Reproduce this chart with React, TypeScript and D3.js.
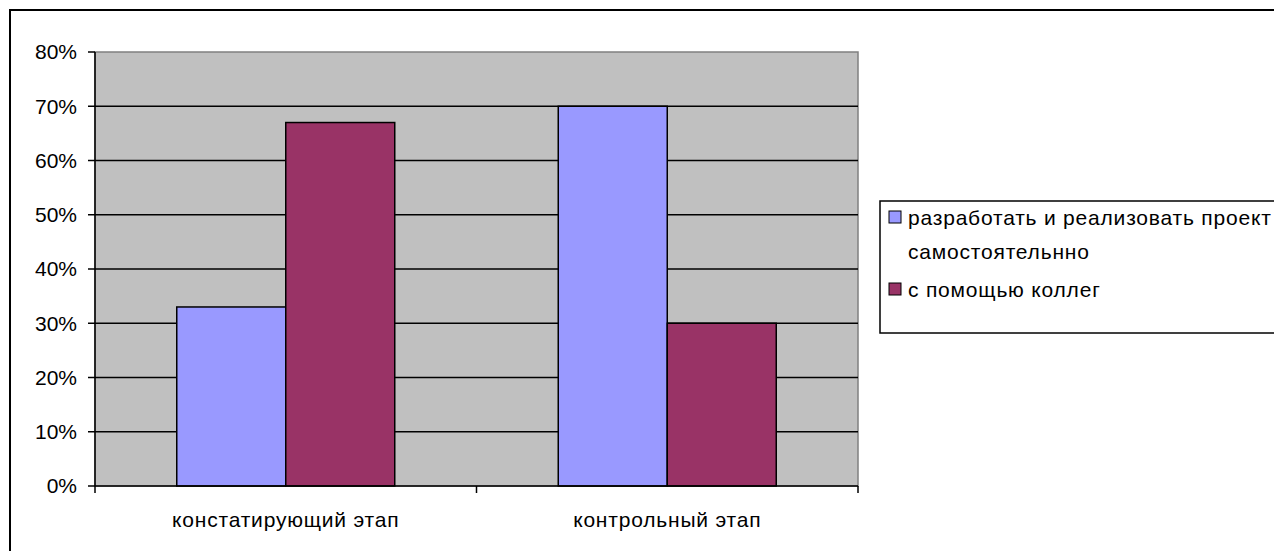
import * as d3 from "d3";

const categories = ["констатирующий этап", "контрольный этап"];
const seriesNames = ["разработать и реализовать проект самостоятельнно", "с помощью коллег"];
const seriesValues = [
  [0.33, 0.67],
  [0.7, 0.3],
];
const yTicks = [0, 0.1, 0.2, 0.3, 0.4, 0.5, 0.6, 0.7, 0.8];
const colors = ["#9999ff", "#993366"];

const W = 1274;
const H = 551;
const plot = { left: 95, right: 858, top: 52, bottom: 486 };
const font = "Arial, 'Liberation Sans', sans-serif";
const fs = 21;
const ls = 0.8;

export default function App() {
  const x0 = d3
    .scaleBand<string>()
    .domain(categories)
    .range([plot.left, plot.right])
    .paddingInner(0)
    .paddingOuter(0);

  // Excel gap width 150%: group = 2 bars + 1.5 bar
  const barW = x0.bandwidth() / 3.5;
  const x1 = d3
    .scaleBand<number>()
    .domain([0, 1])
    .range([0, barW * 2]);

  const y = d3.scaleLinear().domain([0, 0.8]).range([plot.bottom, plot.top]);
  const fmt = d3.format(".0%");

  const catTicks = [plot.left, ...categories.map((c) => (x0(c) ?? 0) + x0.bandwidth())];

  return (
    <svg
      width={W}
      height={H}
      style={{ position: "absolute", left: 0, top: 0, background: "#fff" }}
      fontFamily={font}
    >
      <rect x={10} y={10} width={1300} height={600} fill="#fff" stroke="#000" strokeWidth={2} />

      {/* plot area */}
      <rect
        x={plot.left}
        y={plot.top}
        width={plot.right - plot.left}
        height={plot.bottom - plot.top}
        fill="#c0c0c0"
        stroke="#808080"
        strokeWidth={1.5}
      />

      {/* gridlines */}
      {yTicks.slice(1, -1).map((t) => (
        <line key={t} x1={plot.left} x2={plot.right} y1={y(t)} y2={y(t)} stroke="#000" strokeWidth={1.5} />
      ))}

      {/* bars */}
      {categories.map((c, ci) => {
        const gx = (x0(c) ?? 0) + (x0.bandwidth() - barW * 2) / 2;
        return seriesValues.map((vals, si) => (
          <rect
            key={`${ci}-${si}`}
            x={gx + (x1(si) ?? 0)}
            y={y(seriesValues[ci][si])}
            width={barW}
            height={plot.bottom - y(seriesValues[ci][si])}
            fill={colors[si]}
            stroke="#000"
            strokeWidth={1.5}
          />
        ));
      })}

      {/* y axis */}
      <line x1={plot.left} x2={plot.left} y1={plot.top} y2={plot.bottom} stroke="#000" strokeWidth={1.5} />
      {yTicks.map((t) => (
        <g key={t}>
          <line x1={plot.left - 7} x2={plot.left} y1={y(t)} y2={y(t)} stroke="#000" strokeWidth={1.5} />
          <text x={77} y={y(t)} dy="0.35em" textAnchor="end" fontSize={fs} fill="#000">
            {fmt(t)}
          </text>
        </g>
      ))}

      {/* x axis */}
      <line x1={plot.left} x2={plot.right} y1={plot.bottom} y2={plot.bottom} stroke="#000" strokeWidth={1.5} />
      {catTicks.map((t, i) => (
        <line key={i} x1={t} x2={t} y1={plot.bottom} y2={plot.bottom + 7} stroke="#000" strokeWidth={1.5} />
      ))}
      {categories.map((c) => (
        <text
          key={c}
          x={(x0(c) ?? 0) + x0.bandwidth() / 2}
          y={520}
          dy="0.35em"
          textAnchor="middle"
          fontSize={fs}
          letterSpacing={ls}
          fill="#000"
        >
          {c}
        </text>
      ))}

      {/* legend */}
      <rect x={880} y={201} width={420} height={132} fill="#fff" stroke="#000" strokeWidth={1.5} />
      <rect x={889} y={211} width={12} height={12} fill={colors[0]} stroke="#000" strokeWidth={1} />
      <text x={908} y={218} dy="0.35em" fontSize={fs} letterSpacing={ls} fill="#000">
        разработать и реализовать проект
      </text>
      <text x={908} y={252} dy="0.35em" fontSize={fs} letterSpacing={ls} fill="#000">
        самостоятельнно
      </text>
      <rect x={889} y={283} width={12} height={12} fill={colors[1]} stroke="#000" strokeWidth={1} />
      <text x={908} y={290} dy="0.35em" fontSize={fs} letterSpacing={ls} fill="#000">
        {seriesNames[1]}
      </text>
    </svg>
  );
}
